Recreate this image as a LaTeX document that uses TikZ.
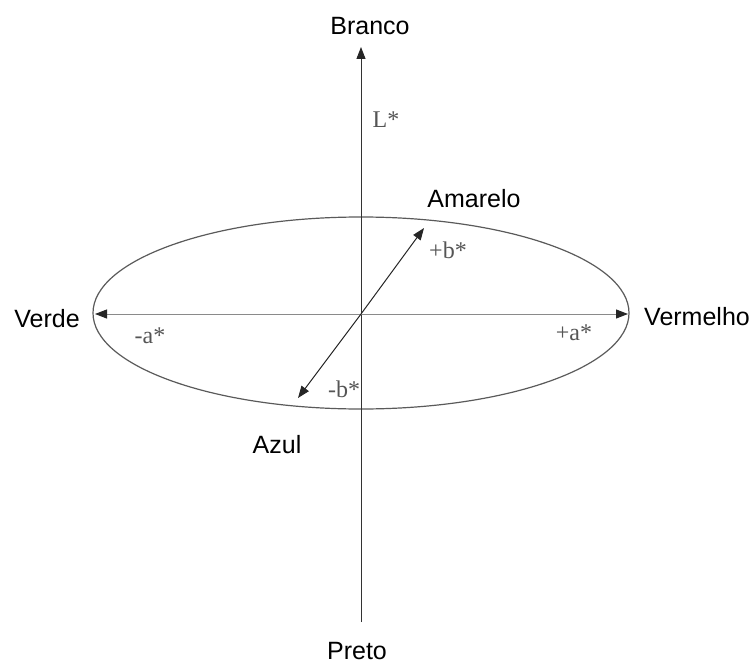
\documentclass[tikz,border=0pt]{standalone}
\usepackage{fontspec}
\setmainfont{Liberation Sans}
\newfontfamily\timesf{Liberation Serif}
\usetikzlibrary{arrows.meta,shapes.geometric}
\definecolor{axisgray}{HTML}{8A8A8A}
\definecolor{ellgray}{HTML}{5A5A5A}
\definecolor{lblgray}{HTML}{555555}
\tikzset{
  colorlbl/.style={inner sep=0pt, anchor=base, font=\fontsize{25}{28}\selectfont, text=black},
  axislbl/.style={inner sep=0pt, anchor=base, font=\timesf\fontsize{24}{27}\selectfont, text=lblgray},
  tip/.style={-{Triangle[length=12pt,width=9pt,color=black!85]}},
}
\begin{document}
\begin{tikzpicture}[x=1pt,y=-1pt]
\useasboundingbox (0,0) rectangle (755,666);
% ellipse
\node[draw=ellgray, line width=1.2pt, ellipse, minimum width=536pt, minimum height=192pt, inner sep=0pt] (ell) at (361,313) {};
\coordinate (O) at (361,314);
\coordinate (top) at (361,47);
\coordinate (bot) at (361,622);
\coordinate (left) at (95,314);
\coordinate (right) at (628,314);
\coordinate (yel) at (424,228);
\coordinate (blu) at (298,398);
% axes
\draw[line width=1pt, black!80, tip] (bot) -- (top);
\draw[line width=1pt, axisgray, tip] (O) -- (right);
\draw[line width=1pt, axisgray, tip] (O) -- (left);
\draw[line width=1pt, black!85, tip] (O) -- (yel);
\draw[line width=1pt, black!85, tip] (O) -- (blu);
% color labels
\node[colorlbl] (branco) at (370,35) {Branco};
\node[colorlbl] (preto) at (357,659) {Preto};
\node[colorlbl] (verde) at (47,327) {Verde};
\node[colorlbl] (vermelho) at (697,325) {Vermelho};
\node[colorlbl] (amarelo) at (474,207) {Amarelo};
\node[colorlbl] (azul) at (277,453) {Azul};
% axis labels
\node[axislbl] (L) at (386,128) {L*};
\node[axislbl] (pb) at (448,258) {+b*};
\node[axislbl] (mb) at (344,397) {-b*};
\node[axislbl] (ma) at (150,343) {-a*};
\node[axislbl] (pa) at (574,340) {+a*};
\end{tikzpicture}
\end{document}
